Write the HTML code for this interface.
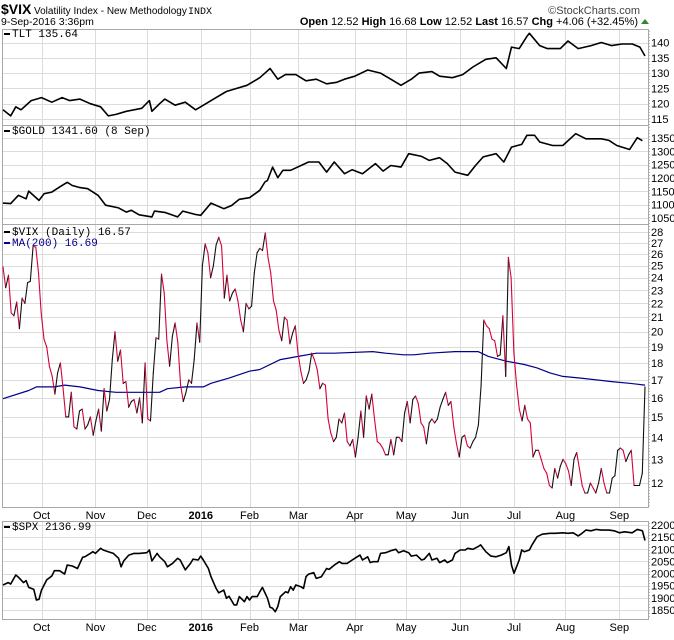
<!DOCTYPE html>
<html><head><meta charset="utf-8">
<style>
html,body{margin:0;padding:0;background:#fff;}
svg{display:block;font-family:"Liberation Sans",sans-serif;}
.ax{font-size:11px;fill:#000;}
.mono{font-family:"Liberation Mono",monospace;font-size:11px;}
</style></head>
<body>
<svg id="chart" width="674" height="640" viewBox="0 0 674 640">
  <g>
    <text x="1" y="14" style="font-size:14px;font-weight:bold">$VIX</text>
    <text x="34" y="14" style="font-size:10px">Volatility Index - New Methodology</text>
    <text x="188" y="14" class="mono" style="font-size:10px">INDX</text>
    <text x="640" y="14" text-anchor="end" style="font-size:11px;fill:#444">©StockCharts.com</text>
    <text x="1" y="25" style="font-size:10.5px">9-Sep-2016 3:36pm</text>
    <text x="638" y="25" text-anchor="end" style="font-size:11px"><tspan font-weight="bold">Open</tspan> 12.52 <tspan font-weight="bold">High</tspan> 16.68 <tspan font-weight="bold">Low</tspan> 12.52 <tspan font-weight="bold">Last</tspan> 16.57 <tspan font-weight="bold">Chg</tspan> +4.06 (+32.45%)</text>
    <polygon points="641,24 649,24 645,19" fill="#2a8a2a"/>
  </g>
  <g id="grid"></g>
  <g id="series"></g>
  <g id="labels"></g>
</svg>
<script>
// ---------- data ----------
const monthNames = ["Oct","Nov","Dec","2016","Feb","Mar","Apr","May","Jun","Jul","Aug","Sep"];
const monthDays = [15,36,56,77,96,115,137,157,178,199,219,240];

const tltDays = [0,3,5,7,11,15,19,23,26,30,34,38,41,44,48,54,57,58,61,63,67,71,75,79,83,87,91,95,100,104,107,110,114,118,122,126,130,133,137,142,147,151,155,159,162,167,170,175,179,183,188,192,196,198,201,204,205,209,212,217,220,224,229,233,237,241,245,248,250];
const tltVals = [118,116,119,118,121,122,120.5,122,121,121.5,120,119,116,116.5,117.5,118.5,121,117.5,120,121.5,119.5,120.5,118,120,122,124,125,126,128.5,131.5,128,129.5,129.5,127.5,128,126.5,127,128,129,131,130,128,126,128,130,130.5,129,128.5,129.5,132,134.5,135,131.5,138.5,138,142,143,139,138,138,140.5,138,139,140,139,139.5,139.5,138.5,135.6];
const tltTicks = [115,120,125,130,135,140];

const goldDays = [0,3,6,9,10,14,16,19,22,25,27,30,33,37,40,45,48,50,53,58,59,63,68,70,75,77,81,86,89,92,96,100,102,103,105,107,109,112,119,123,126,129,133,136,140,145,148,151,155,158,163,166,170,173,176,181,184,187,192,195,198,202,204,207,209,214,218,223,227,233,236,239,244,245,247,249];
const goldVals = [1106,1104,1135,1122,1151,1116,1141,1147,1166,1184,1172,1164,1160,1135,1098,1088,1072,1079,1062,1054,1076,1071,1054,1076,1063,1060,1106,1085,1097,1120,1126,1154,1185,1191,1241,1201,1229,1229,1260,1260,1222,1260,1216,1231,1216,1254,1226,1247,1241,1291,1281,1266,1276,1254,1222,1210,1247,1279,1291,1260,1316,1326,1360,1360,1335,1322,1322,1366,1347,1347,1341,1322,1307,1322,1351,1340];
const goldTicks = [1050,1100,1150,1200,1250,1300,1350];

const vixVals = [24.9,23.2,24.2,21.3,21.1,22.1,20.2,22.4,22.0,23.6,23.7,26.7,26.6,24.4,21.3,19.5,19.0,17.8,17.2,16.2,17.4,18.0,16.5,15.0,15.0,16.3,14.5,14.4,15.3,15.4,14.4,14.6,15.0,14.1,14.8,15.4,14.3,16.5,15.3,15.9,18.2,20.0,18.1,18.8,16.8,16.9,15.5,15.8,15.9,15.2,16.0,14.7,18.0,14.9,14.8,17.4,19.6,19.5,24.3,22.8,19.4,17.8,19.7,20.6,19.3,16.7,15.8,16.3,17.0,16.8,18.2,20.6,19.3,25.0,26.9,26.1,24.0,25.0,26.8,27.5,26.7,22.4,24.2,22.2,22.8,23.1,22.2,20.8,20.0,22.0,21.6,21.8,24.4,26.1,26.5,26.3,27.9,25.7,24.4,22.2,21.5,20.1,19.4,21.0,20.8,19.2,19.9,20.4,18.6,17.5,16.8,17.0,17.5,18.6,18.2,17.6,16.5,16.8,16.7,14.9,14.2,13.8,14.0,14.9,14.7,15.2,13.8,13.6,13.9,13.1,14.0,15.3,14.0,16.1,15.4,16.2,14.9,13.8,13.7,13.5,13.2,13.2,13.9,13.2,14.0,14.0,13.8,15.2,15.8,14.7,15.9,16.1,15.7,14.7,14.5,13.7,14.7,14.9,14.7,14.9,15.5,15.9,16.3,15.6,15.8,14.5,13.7,13.1,14.0,14.1,13.6,13.5,13.8,14.0,14.6,16.7,20.8,20.4,20.2,19.5,19.4,18.4,18.5,21.1,17.2,25.7,24.0,18.6,16.7,15.4,14.8,15.6,14.9,14.7,13.1,13.4,13.4,13.0,12.6,12.4,11.9,11.8,12.6,12.2,12.7,13.0,12.8,12.5,11.9,13.0,13.3,12.6,11.9,11.6,11.6,12.0,11.8,11.6,12.0,12.6,12.0,11.6,11.6,12.2,12.3,13.4,13.5,13.4,12.9,13.2,13.4,11.9,11.9,11.9,12.4,16.6];
const maDays = [0,10,13,20,24,30,37,44,51,61,64,71,78,81,88,96,100,108,115,122,129,144,149,156,160,166,176,185,189,196,203,208,213,218,225,237,244,250];
const maVals = [15.95,16.4,16.6,16.6,16.7,16.6,16.4,16.3,16.3,16.3,16.5,16.6,16.6,16.8,17.1,17.5,17.6,18.2,18.4,18.6,18.6,18.7,18.6,18.5,18.5,18.6,18.7,18.7,18.4,18.1,17.9,17.7,17.4,17.2,17.1,16.9,16.8,16.7];
const vixTicks = [12,13,14,15,16,17,18,19,20,21,22,23,24,25,26,27,28];

const spxDays = [0,2,3,5,6,8,9,10,12,13,14,15,17,19,20,22,24,25,27,29,31,32,34,35,36,38,39,41,43,45,46,47,49,51,53,56,57,58,60,61,63,64,66,68,69,70,71,73,74,76,77,78,80,81,83,84,86,87,88,90,91,92,94,95,96,97,99,100,101,103,104,105,106,107,108,110,111,112,113,114,116,117,118,119,121,122,124,126,127,129,131,132,134,136,137,139,140,142,143,144,146,147,149,151,153,154,156,158,159,161,163,164,166,167,169,170,172,173,175,176,178,180,181,183,185,186,188,190,192,194,196,197,198,199,201,202,203,205,206,208,210,213,215,218,220,222,224,225,227,229,231,233,236,238,240,242,245,247,249,250];
const spxVals = [1953,1963,1957,1994,1985,1963,1971,1943,1935,1891,1894,1932,1974,1990,2012,2012,1998,2035,2031,2021,2067,2070,2083,2090,2083,2104,2097,2090,2083,2063,2028,2052,2076,2083,2083,2086,2097,2052,2083,2069,2049,2028,2042,2063,2056,2035,2015,2042,2059,2056,2072,2056,2021,1987,1939,1921,1932,1898,1907,1871,1871,1905,1884,1905,1891,1905,1905,1925,1943,1898,1861,1857,1843,1864,1905,1925,1921,1946,1932,1953,1946,1939,1987,1998,2004,1980,1987,2021,2017,2035,2049,2042,2042,2056,2063,2076,2056,2069,2045,2049,2049,2083,2086,2094,2100,2086,2094,2086,2072,2076,2056,2059,2083,2056,2063,2045,2056,2045,2056,2083,2097,2097,2104,2100,2111,2118,2090,2072,2069,2076,2086,2111,2035,2001,2056,2097,2090,2097,2118,2152,2162,2166,2166,2168,2166,2168,2155,2162,2179,2176,2182,2179,2179,2176,2168,2172,2168,2182,2176,2136];
const spxTicks = [1850,1900,1950,2000,2050,2100,2150,2200];

// ---------- layout ----------
const NS = "http://www.w3.org/2000/svg";
const L = 2, R = 648, X0 = 3, X1 = 645, DMAX = 250;
function xScale(d){ return X0 + (X1 - X0) * d / DMAX; }
function linY(v0,y0,v1,y1){ return v => y0 + (v - v0) * (y1 - y0) / (v1 - v0); }
function logY(v0,y0,v1,y1){ const a=Math.log(v0), b=Math.log(v1); return v => y0 + (Math.log(v) - a) * (y1 - y0) / (b - a); }

const panels = [
  {name:"tlt", top:29, bot:125, y:linY(140,42.5,115,119), ticks:tltTicks},
  {name:"gold", top:125, bot:224, y:linY(1350,138,1050,218), ticks:goldTicks},
  {name:"vix", top:224, bot:507, y:logY(28,232,12,483), ticks:vixTicks},
  {name:"spx", top:521, bot:619, y:linY(2200,525,1850,610), ticks:spxTicks}
];
const grid = document.getElementById('grid');
const series = document.getElementById('series');
const labels = document.getElementById('labels');

function mk(tag, attrs, parent){
  const e = document.createElementNS(NS, tag);
  for (const k in attrs) e.setAttribute(k, attrs[k]);
  parent.appendChild(e); return e;
}

panels.forEach(p => {
  const g = mk('g', {}, grid);
  
  
  monthDays.forEach(d => {
    const x = Math.round(xScale(d)) + 0.5;
    const ln = mk('line', {x1:x, x2:x, y1:p.top, y2:p.bot, stroke:'#dcdcdc', 'stroke-width':1}, g);
    
    
  });
  p.ticks.forEach(t => {
    const y = Math.round(p.y(t)) + 0.5;
    if (y > p.top + 1 && y < p.bot - 1) {
      const ln = mk('line', {x1:L, x2:R, y1:y, y2:y, stroke:'#dcdcdc', 'stroke-width':1}, g);
      
      
    }
    const tx = mk('text', {x:651, y:p.y(t) + 4, class:'ax'}, labels);
    tx.textContent = t;
    
    
  });
  const r = mk('rect', {x:L+0.5, y:p.top+0.5, width:R-L, height:p.bot-p.top, fill:'none', stroke:'#a8a8a8', 'stroke-width':1}, g);
  
  
  for (let y = p.top + 2; y < p.bot; y += 3) {
    mk('rect', {x:R+1, y:y, width:1, height:1, fill:'#bbb'}, g);
  }
});

function linePath(days, vals, yf){
  return days.map((d,i) => (i?'L':'M') + xScale(d).toFixed(1) + ',' + yf(vals[i]).toFixed(1)).join('');
}
function drawLine(name, days, vals, yf, color, w){
  const pth = mk('path', {d:linePath(days, vals, yf), fill:'none', stroke:color, 'stroke-width':w, 'stroke-linejoin':'round'}, series);
  
  
}
drawLine('tlt-line', tltDays, tltVals, panels[0].y, '#000', 1.6);
drawLine('gold-line', goldDays, goldVals, panels[1].y, '#000', 1.6);
drawLine('spx-line', spxDays, spxVals, panels[3].y, '#000', 1.6);
drawLine('ma200-line', maDays, maVals, panels[2].y, '#00008b', 1.2);

const vixG = mk('g', {}, series);


const vixDay = i => i * DMAX / (vixVals.length - 1);
for (let i = 1; i < vixVals.length; i++) {
  const seg = mk('line', {
    x1:xScale(vixDay(i-1)).toFixed(1), y1:panels[2].y(vixVals[i-1]).toFixed(1),
    x2:xScale(vixDay(i)).toFixed(1), y2:panels[2].y(vixVals[i]).toFixed(1),
    stroke: vixVals[i] < vixVals[i-1] ? '#d6003a' : '#111', 'stroke-width':1.1, 'stroke-linecap':'round'}, vixG);
  
  
}

[515, 627].forEach((yy, k) => {
  monthNames.forEach((m, i) => {
    const t = mk('text', {x:xScale(monthDays[i]), y:yy + 4, 'text-anchor':'middle', class:'ax'}, labels);
    if (m === '2016') t.setAttribute('font-weight', 'bold');
    t.textContent = m;
    
    
  });
});

const legends = [
  {y:37, text:'TLT 135.64', color:'#000', name:'tlt-legend'},
  {y:134, text:'$GOLD 1341.60 (8 Sep)', color:'#000', name:'gold-legend'},
  {y:235, text:'$VIX (Daily) 16.57', color:'#000', name:'vix-legend'},
  {y:246, text:'MA(200) 16.69', color:'#00008b', name:'ma200-legend'},
  {y:530, text:'$SPX 2136.99', color:'#000', name:'spx-legend'}
];
legends.forEach(lg => {
  const g = mk('g', {}, labels);
  
  
  mk('rect', {x:4, y:lg.y - 4, width:6, height:2, fill:lg.color}, g);
  const t = mk('text', {x:12, y:lg.y, class:'mono', fill:lg.color}, g);
  t.textContent = lg.text;
});
</script>
</body></html>
